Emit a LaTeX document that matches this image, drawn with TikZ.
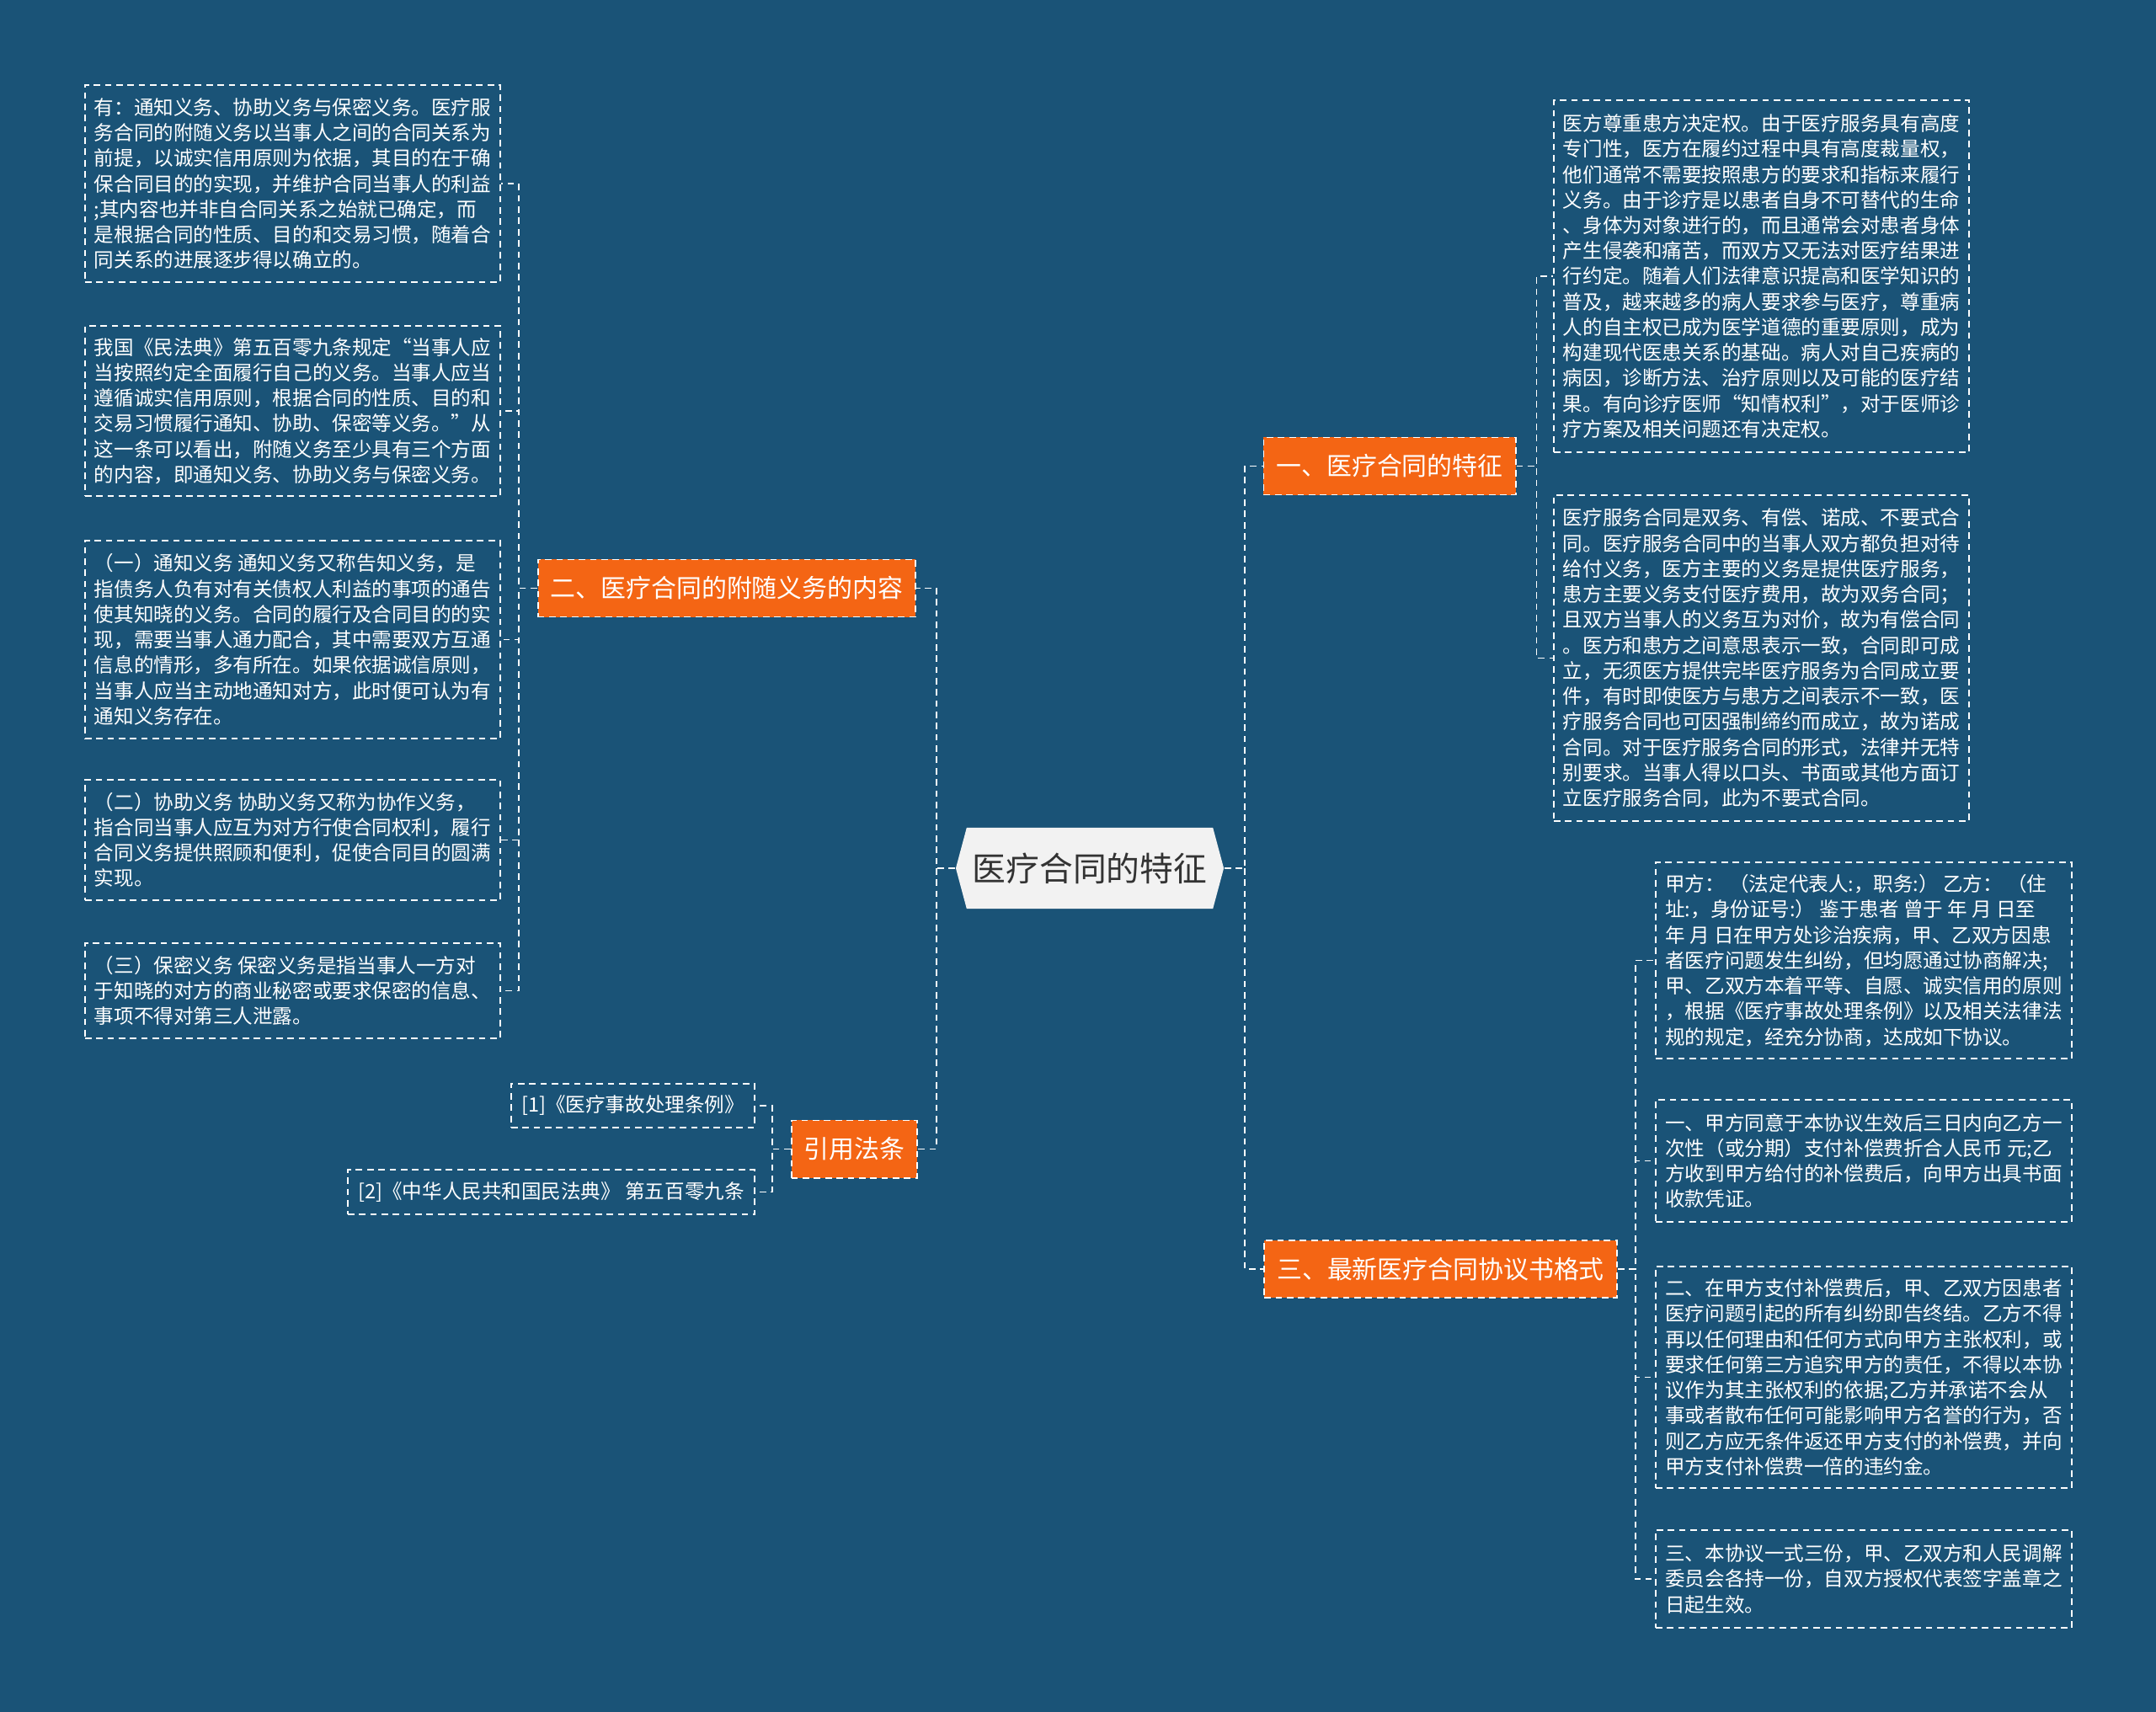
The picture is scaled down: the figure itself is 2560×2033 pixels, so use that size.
\documentclass[tikz,border=0pt]{standalone}
\usepackage{fontspec}
\setmainfont{Noto Sans CJK SC}
\usetikzlibrary{shapes.symbols}
\definecolor{bgblue}{RGB}{26,83,119}
\definecolor{topicorange}{RGB}{244,101,20}
\definecolor{rootgray}{RGB}{242,242,242}
\definecolor{rootink}{RGB}{51,51,51}

\begin{document}
\begin{tikzpicture}[x=0.01cm,y=-0.01cm,
  dashline/.style={draw=white,line width=0.55pt,dash pattern=on 2.2pt off 1.6pt},
  leaf/.style={dashline,text=white,align=left,inner sep=0pt,minimum width=4.93cm,
    font=\fontsize{6.7pt}{8.6pt}\selectfont},
  topic/.style={dashline,fill=topicorange,text=white,minimum height=0.68cm,
    inner xsep=0.15cm,inner ysep=0pt,font=\fontsize{8.5pt}{10pt}\selectfont},
  root/.style={signal,signal to=west and east,signal pointer angle=150,fill=rootgray,
    text=rootink,minimum width=3.18cm,minimum height=0.96cm,inner sep=0pt,
    font=\fontsize{11.3pt}{13pt}\selectfont}]
  \useasboundingbox (0,0) rectangle (2560,2033);
  \fill[bgblue] (0,0) rectangle (2560,2033);

  % root and main topics
  \node[root] (root) at (1294,1031) {医疗合同的特征};
  \node[topic] (b1) at (1650,553.5) {一、医疗合同的特征};
  \node[topic] (b2) at (863,698.5) {二、医疗合同的附随义务的内容};
  \node[topic] (b3) at (1014.5,1364.5) {引用法条};
  \node[topic] (b4) at (1710.5,1507) {三、最新医疗合同协议书格式};

  % left leaves
  \node[leaf,minimum height=2.34cm] (l1) at (347.5,218) {有：通知义务、协助义务与保密义务。医疗服\\
    务合同的附随义务以当事人之间的合同关系为\\
    前提，以诚实信用原则为依据，其目的在于确\\
    保合同目的的实现，并维护合同当事人的利益\\
    ;其内容也并非自合同关系之始就已确定，而\\
    是根据合同的性质、目的和交易习惯，随着合\\
    同关系的进展逐步得以确立的。};
  \node[leaf,minimum height=2.02cm] (l2) at (347.5,488) {我国《民法典》第五百零九条规定“当事人应\\
    当按照约定全面履行自己的义务。当事人应当\\
    遵循诚实信用原则，根据合同的性质、目的和\\
    交易习惯履行通知、协助、保密等义务。”从\\
    这一条可以看出，附随义务至少具有三个方面\\
    的内容，即通知义务、协助义务与保密义务。};
  \node[leaf,minimum height=2.35cm] (l3) at (347.5,759.5) {（一）通知义务 通知义务又称告知义务，是\\
    指债务人负有对有关债权人利益的事项的通告\\
    使其知晓的义务。合同的履行及合同目的的实\\
    现，需要当事人通力配合，其中需要双方互通\\
    信息的情形，多有所在。如果依据诚信原则，\\
    当事人应当主动地通知对方，此时便可认为有\\
    通知义务存在。};
  \node[leaf,minimum height=1.43cm] (l4) at (347.5,997.5) {（二）协助义务 协助义务又称为协作义务，\\
    指合同当事人应互为对方行使合同权利，履行\\
    合同义务提供照顾和便利，促使合同目的圆满\\
    实现。};
  \node[leaf,minimum height=1.13cm] (l5) at (347.5,1176.5) {（三）保密义务 保密义务是指当事人一方对\\
    于知晓的对方的商业秘密或要求保密的信息、\\
    事项不得对第三人泄露。};

  % references
  \node[leaf,minimum width=2.89cm,minimum height=0.52cm] (f1) at (751.5,1313) {[1]《医疗事故处理条例》};
  \node[leaf,minimum width=4.83cm,minimum height=0.53cm] (f2) at (654.5,1415.5) {[2]《中华人民共和国民法典》 第五百零九条};

  % right leaves of b1
  \node[leaf,minimum height=4.18cm] (r1) at (2091.5,328) {医方尊重患方决定权。由于医疗服务具有高度\\
    专门性，医方在履约过程中具有高度裁量权，\\
    他们通常不需要按照患方的要求和指标来履行\\
    义务。由于诊疗是以患者自身不可替代的生命\\
    、身体为对象进行的，而且通常会对患者身体\\
    产生侵袭和痛苦，而双方又无法对医疗结果进\\
    行约定。随着人们法律意识提高和医学知识的\\
    普及，越来越多的病人要求参与医疗，尊重病\\
    人的自主权已成为医学道德的重要原则，成为\\
    构建现代医患关系的基础。病人对自己疾病的\\
    病因，诊断方法、治疗原则以及可能的医疗结\\
    果。有向诊疗医师“知情权利”，对于医师诊\\
    疗方案及相关问题还有决定权。};
  \node[leaf,minimum height=3.87cm] (r2) at (2091.5,781.5) {医疗服务合同是双务、有偿、诺成、不要式合\\
    同。医疗服务合同中的当事人双方都负担对待\\
    给付义务，医方主要的义务是提供医疗服务，\\
    患方主要义务支付医疗费用，故为双务合同；\\
    且双方当事人的义务互为对价，故为有偿合同\\
    。医方和患方之间意思表示一致，合同即可成\\
    立，无须医方提供完毕医疗服务为合同成立要\\
    件，有时即使医方与患方之间表示不一致，医\\
    疗服务合同也可因强制缔约而成立，故为诺成\\
    合同。对于医疗服务合同的形式，法律并无特\\
    别要求。当事人得以口头、书面或其他方面订\\
    立医疗服务合同，此为不要式合同。};

  % right leaves of b4
  \node[leaf,minimum width=4.94cm,minimum height=2.33cm] (s1) at (2213,1140.5) {甲方：\ （法定代表人:，职务:）\ 乙方：\ （住\\
    址:，身份证号:）\ 鉴于患者 曾于 年 月 日至\\
    年 月 日在甲方处诊治疾病，甲、乙双方因患\\
    者医疗问题发生纠纷，但均愿通过协商解决;\\
    甲、乙双方本着平等、自愿、诚实信用的原则\\
    ，根据《医疗事故处理条例》以及相关法律法\\
    规的规定，经充分协商，达成如下协议。};
  \node[leaf,minimum width=4.94cm,minimum height=1.45cm] (s2) at (2213,1378.5) {一、甲方同意于本协议生效后三日内向乙方一\\
    次性（或分期）支付补偿费折合人民币 元;乙\\
    方收到甲方给付的补偿费后，向甲方出具书面\\
    收款凭证。};
  \node[leaf,minimum width=4.94cm,minimum height=2.63cm] (s3) at (2213,1635.5) {二、在甲方支付补偿费后，甲、乙双方因患者\\
    医疗问题引起的所有纠纷即告终结。乙方不得\\
    再以任何理由和任何方式向甲方主张权利，或\\
    要求任何第三方追究甲方的责任，不得以本协\\
    议作为其主张权利的依据;乙方并承诺不会从\\
    事或者散布任何可能影响甲方名誉的行为，否\\
    则乙方应无条件返还甲方支付的补偿费，并向\\
    甲方支付补偿费一倍的违约金。};
  \node[leaf,minimum width=4.94cm,minimum height=1.16cm] (s4) at (2213,1875) {三、本协议一式三份，甲、乙双方和人民调解\\
    委员会各持一份，自双方授权代表签字盖章之\\
    日起生效。};

  % connectors
  \coordinate (jl) at (1112,1031);
  \coordinate (jr) at (1478,1031);
  \draw[dashline] (root.west) -- (jl) |- (b2.east);
  \draw[dashline] (jl) |- (b3.east);
  \draw[dashline] (root.east) -- (jr) |- (b1.west);
  \draw[dashline] (jr) |- (b4.west);
  \coordinate (j2) at ([xshift=-0.22cm]b2.west);
  \foreach \n in {l1,l2,l3,l4,l5}
    \draw[dashline] (b2.west) -- (j2) |- (\n.east);
  \coordinate (j3) at ([xshift=-0.22cm]b3.west);
  \foreach \n in {f1,f2}
    \draw[dashline] (b3.west) -- (j3) |- (\n.east);
  \coordinate (j1) at ([xshift=0.24cm]b1.east);
  \foreach \n in {r1,r2}
    \draw[dashline] (b1.east) -- (j1) |- (\n.west);
  \coordinate (j4) at ([xshift=0.21cm]b4.east);
  \foreach \n in {s1,s2,s3,s4}
    \draw[dashline] (b4.east) -- (j4) |- (\n.west);
\end{tikzpicture}
\end{document}
